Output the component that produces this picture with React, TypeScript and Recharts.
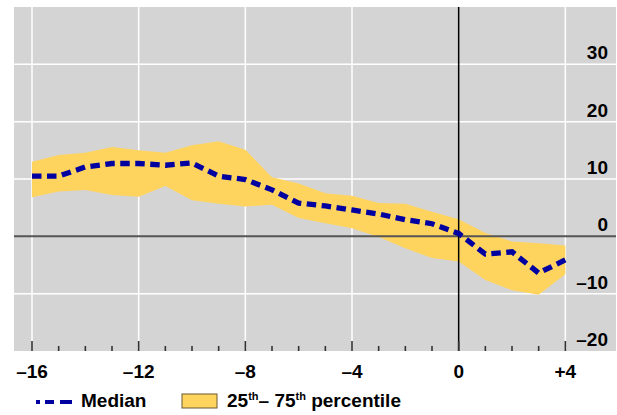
import React from "react";
import {
  ComposedChart,
  Area,
  Line,
  XAxis,
  YAxis,
  CartesianGrid,
  ReferenceLine,
} from "recharts";

// Years relative to the event (x axis)
const periods = [-16, -15, -14, -13, -12, -11, -10, -9, -8, -7, -6, -5, -4, -3, -2, -1, 0, 1, 2, 3, 4];
// Median
const median = [10.5, 10.5, 12.1, 12.7, 12.7, 12.4, 12.8, 10.5, 9.9, 8.1, 5.8, 5.3, 4.6, 3.9, 2.9, 2.2, 0.5, -3.1, -2.7, -6.4, -4.1];
// 75th percentile
const p75 = [13.0, 14.2, 14.6, 15.6, 15.0, 14.6, 15.9, 16.6, 15.1, 10.3, 9.2, 7.5, 7.1, 5.8, 5.7, 4.3, 3.0, 0.6, -0.9, -1.2, -1.6];
// 25th percentile
const p25 = [6.8, 7.8, 8.1, 7.2, 6.9, 8.8, 6.3, 5.7, 5.2, 5.5, 3.2, 2.3, 1.4, -0.1, -2.1, -3.8, -4.4, -7.6, -9.4, -10.2, -6.6];

const xTicks = [-16, -15, -14, -13, -12, -11, -10, -9, -8, -7, -6, -5, -4, -3, -2, -1, 0, 1, 2, 3, 4];
const xMajor = [-16, -12, -8, -4, 0, 4];
const yTicks = [-20, -10, 0, 10, 20, 30];

const data = periods.map((p, i) => ({
  period: p,
  median: median[i],
  band: [p25[i], p75[i]],
}));

const FONT = '"Liberation Sans", Arial, Helvetica, sans-serif';
const FS = 19;

const fmtX = (v: number) => (v < 0 ? "\u2013" + Math.abs(v) : v > 0 ? "+" + v : "0");
const fmtY = (v: number) => (v < 0 ? "\u2013" + Math.abs(v) : String(v));

const XTick = (props: any) => {
  const { x, y, payload } = props;
  const v = payload.value;
  const major = xMajor.includes(v);
  return (
    <g>
      <line x1={x} x2={x} y1={y} y2={y - (major ? 10 : 5)} stroke="#333" strokeWidth={1.6} />
      {major && (
        <text x={x} y={y + 27} textAnchor="middle" fontFamily={FONT} fontWeight="bold" fontSize={FS} fill="#000">
          {fmtX(v)}
        </text>
      )}
    </g>
  );
};

const YTick = (props: any) => {
  const { x, y, payload } = props;
  return (
    <text x={x - 8} y={y - 5} textAnchor="end" fontFamily={FONT} fontWeight="bold" fontSize={FS} fill="#000">
      {fmtY(payload.value)}
    </text>
  );
};

export default function App() {
  return (
    <div style={{ position: "absolute", left: 0, top: 0, width: 617, height: 415 }}>
      <ComposedChart
        width={617}
        height={415}
        data={data}
        margin={{ top: 7, right: 0, bottom: 34, left: 14 }}
      >
        <CartesianGrid
          fill="#d4d4d4"
          stroke="#ffffff"
          strokeWidth={1.5}
          verticalValues={[-16, -12, -8, -4, 4]}
          horizontalValues={[-10, 10, 20, 30]}
        />
        <XAxis
          dataKey="period"
          type="number"
          domain={[-16.675, 5.9]}
          allowDataOverflow
          ticks={xTicks}
          interval={0}
          tickLine={false}
          axisLine={false}
          tickSize={0}
          tickMargin={0}
          height={30}
          tick={<XTick />}
        />
        <YAxis
          orientation="right"
          width={1}
          type="number"
          domain={[-20, 40]}
          allowDataOverflow
          ticks={yTicks}
          interval={0}
          tickLine={false}
          axisLine={false}
          tickSize={0}
          tickMargin={0}
          tick={<YTick />}
        />
        <Area
          dataKey="band"
          type="linear"
          fill="#ffd45e"
          fillOpacity={1}
          stroke="none"
          isAnimationActive={false}
        />
        <ReferenceLine y={0} stroke="#555555" strokeWidth={2} />
        <ReferenceLine x={0} stroke="#000000" strokeWidth={1.5} />
        <Line
          dataKey="median"
          type="linear"
          stroke="#0000a0"
          strokeWidth={5.3}
          strokeDasharray="9.5 5.5"
          dot={false}
          isAnimationActive={false}
        />
      </ComposedChart>
      <svg
        width={617}
        height={415}
        style={{ position: "absolute", left: 0, top: 0, pointerEvents: "none" }}
      >
        <line x1={36} x2={72} y1={402} y2={402} stroke="#0000a0" strokeWidth={4} strokeDasharray="4 5 9 6 12" />
        <text x={81} y={407} fontFamily={FONT} fontWeight="bold" fontSize={FS} fill="#000">
          Median
        </text>
        <rect x={182} y={394} width={35} height={14} fill="#ffd45e" stroke="#6b5a2e" strokeWidth={1} />
        <text x={227} y={407} fontFamily={FONT} fontWeight="bold" fontSize={FS} fill="#000">
          25
          <tspan fontSize={11} dy={-7}>th</tspan>
          <tspan dy={7}>{"\u2013 75"}</tspan>
          <tspan fontSize={11} dy={-7}>th</tspan>
          <tspan dy={7}> percentile</tspan>
        </text>
      </svg>
    </div>
  );
}
